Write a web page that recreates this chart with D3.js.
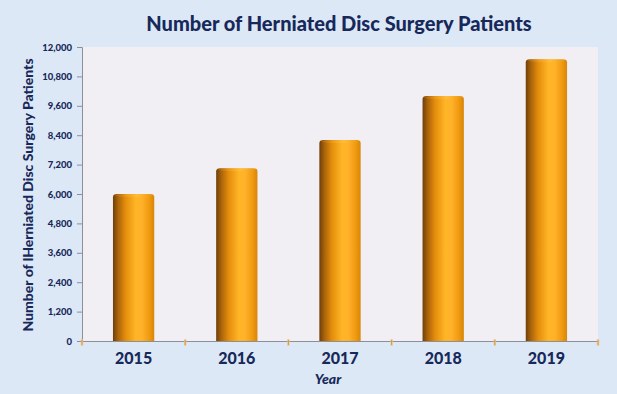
<!DOCTYPE html>
<html><head><meta charset="utf-8">
<script src="https://cdn.jsdelivr.net/npm/d3@7/dist/d3.min.js"></script>
<style>html,body{margin:0;padding:0;background:#dde8f6;}svg{display:block;}</style>
</head><body><svg id="c" width="617" height="394"></svg>
<script>
const years = ["2015","2016","2017","2018","2019"];
const patients = [6000, 7050, 8200, 10000, 11500];
const yTicks = [0,1200,2400,3600,4800,6000,7200,8400,9600,10800,12000];
const titleText = "Number of Herniated Disc Surgery Patients";
const yTitle = "Number of lHerniated Disc Surgery Patients";
const xTitle = "Year";

const W = 617, H = 394;
const m = {left: 82, right: 19, top: 47, bottom: 53};
const FONT = "Lato, 'Open Sans', sans-serif";
const svg = d3.select("#c");
svg.append("rect").attr("width",W).attr("height",H).attr("fill","#dde8f6");

const x = d3.scaleBand().domain(years).range([m.left, W-m.right]).paddingInner(0.6).paddingOuter(0.3);
const xb = d3.scaleBand().domain(years).range([m.left, W-m.right]).padding(0);
const y = d3.scaleLinear().domain([0,12000]).range([H-m.bottom, m.top]);

const defs = svg.append("defs");
const g = defs.append("linearGradient").attr("id","cyl").attr("x1","0").attr("x2","1").attr("y1","0").attr("y2","0");
[[0,"#6e3f08"],[0.12,"#a8620a"],[0.3,"#e48d0c"],[0.55,"#ffb526"],[0.7,"#ffb22a"],[0.88,"#f09a10"],[1,"#d98508"]]
 .forEach(([o,c])=>g.append("stop").attr("offset",o).attr("stop-color",c));
const gt = defs.append("linearGradient").attr("id","cap").attr("x1","0").attr("x2","1");
[[0,"#b06a0c"],[0.3,"#f0a020"],[0.6,"#ffc040"],[1,"#e89a18"]]
 .forEach(([o,c])=>gt.append("stop").attr("offset",o).attr("stop-color",c));

// plot area
svg.append("rect").attr("x",m.left).attr("y",m.top).attr("width",W-m.right-m.left).attr("height",H-m.bottom-m.top).attr("fill","#f1eef4");

// title
svg.append("text").attr("x",339).attr("y",31).attr("text-anchor","middle")
 .attr("font-family",FONT).attr("font-weight",900).attr("font-size",20)
 .attr("fill","#17295a").text(titleText);

// bars
const bars = svg.append("g");
years.forEach((yr,i)=>{
  const bx = x(yr), bw = x.bandwidth(), top = y(patients[i]), bot = y(0);
  bars.append("path")
   .attr("d",`M${bx},${bot} L${bx},${top+3} Q${bx},${top} ${bx+4},${top} L${bx+bw-4},${top} Q${bx+bw},${top} ${bx+bw},${top+3} L${bx+bw},${bot} Z`)
   .attr("fill","url(#cyl)");
  bars.append("ellipse").attr("cx",bx+bw/2).attr("cy",top+1.5).attr("rx",bw/2-2).attr("ry",1.5).attr("fill","url(#cap)").attr("opacity",0.7);
});

// y axis
const ya = svg.append("g").attr("transform",`translate(${m.left},0)`)
 .call(d3.axisLeft(y).tickValues(yTicks).tickSize(5).tickPadding(5).tickFormat(d3.format(",")));
ya.select(".domain").attr("stroke","#8a8f9a");
ya.selectAll(".tick line").attr("stroke","#8a8f9a");
ya.selectAll("text").attr("font-family",FONT).attr("font-weight",900).attr("font-size",9.5).attr("fill","#17295a");

// x axis
const xa = svg.append("g").attr("transform",`translate(0,${y(0)})`)
 .call(d3.axisBottom(xb).tickSize(0).tickPadding(12));
xa.select(".domain").attr("stroke","#8a8f9a");
xa.selectAll("text").attr("font-family",FONT).attr("font-weight",900).attr("font-size",16).attr("fill","#17295a");
const bounds = years.map(d=>xb(d)).concat([xb(years[years.length-1])+xb.bandwidth()]);
svg.append("g").selectAll("line").data(bounds).join("line")
 .attr("x1",d=>d).attr("x2",d=>d).attr("y1",y(0)-2).attr("y2",y(0)+5)
 .attr("stroke","#f3c68a").attr("stroke-width",2.5).attr("opacity",0.8);
svg.append("g").selectAll("line").data(bounds).join("line")
 .attr("x1",d=>d).attr("x2",d=>d).attr("y1",y(0)-1).attr("y2",y(0)+4)
 .attr("stroke","#c98a3a").attr("stroke-width",0.8);

// axis titles
svg.append("text").attr("x",328).attr("y",384).attr("text-anchor","middle")
 .attr("font-family",FONT).attr("font-weight",900).attr("font-style","italic").attr("font-size",14)
 .attr("fill","#17295a").text(xTitle);
svg.append("text").attr("transform",`translate(33,195) rotate(-90)`).attr("text-anchor","middle")
 .attr("font-family",FONT).attr("font-weight",900).attr("font-size",14)
 .attr("fill","#17295a").text(yTitle);
</script></body></html>
